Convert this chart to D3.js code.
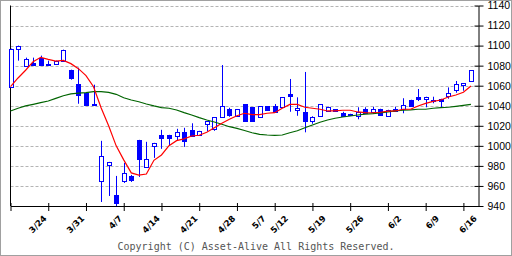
<!DOCTYPE html>
<html>
<head>
<meta charset="utf-8">
<script src="https://cdn.jsdelivr.net/npm/d3@7"></script>
<style>
  body { margin: 0; background: #fff; }
  svg { display: block; }
</style>
</head>
<body>
<div id="paper"></div>
<script>
// daily candles (index = trading day)
var opens  = [1059,1097,1080,1083,1088,1082,1082,1085,1076,1062,1053,1041.5,965,981,951,965,970,1006,979,1000,1011,1011,1010,1013.5,1016,1010.5,1021.5,1017,1028.5,1036.5,1029.5,1041.4,1038.5,1028.5,1039.4,1039.4,1038,1051.4,1035,1034,1025,1029,1035,1036.6,1032.8,1031.8,1030,1036.6,1033.8,1037,1030.5,1037,1036.7,1045.4,1048.7,1047,1045.7,1047,1049,1055,1060,1064.4];
var highs  = [1097,1100,1088,1088,1090,1085,1085,1096,1076,1078,1053,1061,1005,984,970,983,971,1006,1004,1003,1016,1011,1017,1018,1022.5,1015,1024.5,1028.5,1080.6,1038,1036.5,1041.4,1038.5,1039.4,1039.4,1041.7,1048.4,1066.7,1048.4,1073.7,1029.5,1041.4,1039,1036.6,1034,1032,1038.5,1038.5,1039,1037,1036,1039,1047.5,1046,1056.7,1049,1049,1047,1058.3,1064.7,1062.4,1075.3];
var lows   = [1059,1085,1080,1081,1081,1080,1082,1085,1066,1042,1041,1040,944,950,940,963,964,969,979,988,997,1000,1005,999,1010,1010.5,1014.5,1015,1028.5,1029,1029.5,1024,1025,1028.5,1035,1033.5,1038,1034,1030,1013.5,1022,1029,1035,1034.2,1030,1030.8,1026.5,1032.5,1033.8,1031,1030.5,1034.8,1032.5,1039,1044.7,1038.5,1042.5,1038.5,1047,1053,1055,1064.4];
var closes = [1097,1100,1087,1081,1081,1081,1085,1096,1068,1051,1041,1041,990,984,943,973,966,987,987,1002.5,1008,1008,1013.5,1005,1010,1014.5,1024.5,1028.5,1039.4,1030.5,1036.5,1024,1025,1039.4,1035,1033.5,1048.4,1049,1037.4,1025,1028.5,1041.4,1039,1034.2,1030,1030.8,1033.5,1032.5,1037,1031,1036,1034.8,1041,1039,1046.7,1049,1044.7,1045,1052.4,1061.4,1062.4,1075.3];

// moving averages as drawn
var maShort = [1059,1067.7,1075.4,1084,1088.3,1086.3,1084.6,1085.3,1082,1077,1070,1059,1038,1020,1000,986,973,970.9,971.9,985.6,990.9,1000.2,1005.2,1007,1009.8,1010.6,1013.5,1018,1022.5,1026.5,1030,1032.5,1031.1,1031.1,1032.5,1033.1,1037.5,1041.4,1041.4,1038.5,1037.5,1036.5,1034.8,1034.8,1035.5,1035.5,1033.8,1033.1,1033,1033.5,1034.6,1034.8,1036.5,1036.5,1039.8,1042.4,1044.4,1045.7,1048.7,1050.7,1053.4,1059.7];
var maLong  = [1034.8,1037.5,1039.8,1041.4,1043.1,1044.7,1047.4,1050,1051.8,1052.5,1053,1054,1054,1053.4,1051.4,1048,1045.7,1044,1041.7,1039.8,1038.1,1037.5,1035.8,1033.1,1030.8,1028.1,1025.8,1023.8,1021.5,1019.1,1017.5,1015.3,1013.1,1011.5,1010.8,1010.5,1010.8,1013.1,1015.1,1018.1,1020.8,1023.5,1025.8,1027.5,1028.8,1029.8,1030.8,1031.7,1032.1,1032.8,1033.8,1034.8,1035.5,1035.8,1036.5,1036.5,1037.5,1038.1,1038.5,1039.4,1040.4,1041.4];

// x axis labels and where they sit (trading-day index)
var dateLabels = ["3/24","3/31","4/7","4/14","4/21","4/28","5/7","5/12","5/19","5/26","6/2","6/9","6/16"];
var dateIndex  = [5,10,15,20,25,30,34,37,42,47,52,57,62];
var priceTicks = [940,960,980,1000,1020,1040,1060,1080,1100,1120,1140];

var width = 512, height = 256;

var svg = d3.select("#paper").append("svg")
    .attr("width", width)
    .attr("height", height);

svg.append("rect")
    .attr("x", 0.5).attr("y", 0.5)
    .attr("width", width - 1).attr("height", height - 1)
    .attr("fill", "#fff").attr("stroke", "#a0a0a0");

var x = d3.scaleLinear().domain([0, 62]).range([10.5, 478.5]);
var y = d3.scaleLinear().domain([940, 1140]).range([206, 5.5]);

// grid
svg.append("g").selectAll("line")
  .data(priceTicks.slice(1))
  .enter().append("line")
    .attr("x1", x(0)).attr("x2", x(62))
    .attr("y1", function(d) { return Math.round(y(d)) + 0.5; })
    .attr("y2", function(d) { return Math.round(y(d)) + 0.5; })
    .attr("stroke", "#b4b4b4")
    .attr("stroke-dasharray", "3,2");

// left frame line
svg.append("line")
    .attr("x1", 10.5).attr("x2", 10.5)
    .attr("y1", y(1140)).attr("y2", y(940))
    .attr("stroke", "#000");

// candles
var bw = 5;
var candles = svg.append("g");
d3.range(opens.length).forEach(function(i) {
  var cx = Math.round(x(i)) + 0.5;
  var up = closes[i] >= opens[i];
  var top = y(Math.max(opens[i], closes[i])), bot = y(Math.min(opens[i], closes[i]));
  candles.append("line")
      .attr("x1", cx).attr("x2", cx)
      .attr("y1", y(highs[i])).attr("y2", y(lows[i]))
      .attr("stroke", "#0000ff");
  candles.append("rect")
      .attr("x", cx - 2).attr("y", Math.round(top) + 0.5)
      .attr("width", bw - 1).attr("height", Math.max(1, Math.round(bot - top)))
      .attr("fill", up ? "#fff" : "#0000ff")
      .attr("stroke", "#0000ff");
});

// moving averages
var line = d3.line()
    .x(function(d, i) { return x(i); })
    .y(function(d) { return y(d); });

svg.append("path").datum(maLong)
    .attr("d", line).attr("fill", "none")
    .attr("stroke", "#006400").attr("stroke-width", 1.2);
svg.append("path").datum(maShort)
    .attr("d", line).attr("fill", "none")
    .attr("stroke", "#ff0000").attr("stroke-width", 1.2);

// right price axis
var yAxis = svg.append("g")
    .attr("transform", "translate(478.5,0)")
    .call(d3.axisRight(y).tickValues(priceTicks).tickFormat(d3.format("d"))
      .tickSizeInner(5).tickSizeOuter(0).tickPadding(4));
yAxis.select(".domain").attr("stroke", "#000");
yAxis.selectAll(".tick line").clone().attr("x2", -4);
yAxis.selectAll("text")
    .attr("font-family", "'Liberation Sans Narrow', 'Liberation Sans', sans-serif")
    .attr("font-size", 10.5)
    .attr("fill", "#000");

// bottom axis
var xAxis = svg.append("g")
    .attr("transform", "translate(0,206)")
    .call(d3.axisBottom(x).tickValues(d3.range(0, 61, 5)).tickFormat("").tickSizeInner(5).tickSizeOuter(0));
xAxis.select(".domain").attr("stroke", "#000");
xAxis.selectAll(".tick line").clone().attr("y2", -3);

svg.append("g").selectAll("text")
  .data(dateLabels)
  .enter().append("text")
    .attr("transform", function(d, i) { return "translate(" + (x(dateIndex[i]) - 1) + ",219) rotate(-45)"; })
    .attr("text-anchor", "end")
    .attr("font-family", "'DejaVu Sans', sans-serif")
    .attr("font-weight", "bold")
    .attr("font-size", 8.5)
    .text(function(d) { return d; });

svg.append("text")
    .attr("x", 256).attr("y", 250)
    .attr("text-anchor", "middle")
    .attr("font-family", "'DejaVu Sans Mono', monospace")
    .attr("font-size", 10)
    .attr("fill", "#555")
    .text("Copyright (C) Asset-Alive All Rights Reserved.");
</script>
</body>
</html>
